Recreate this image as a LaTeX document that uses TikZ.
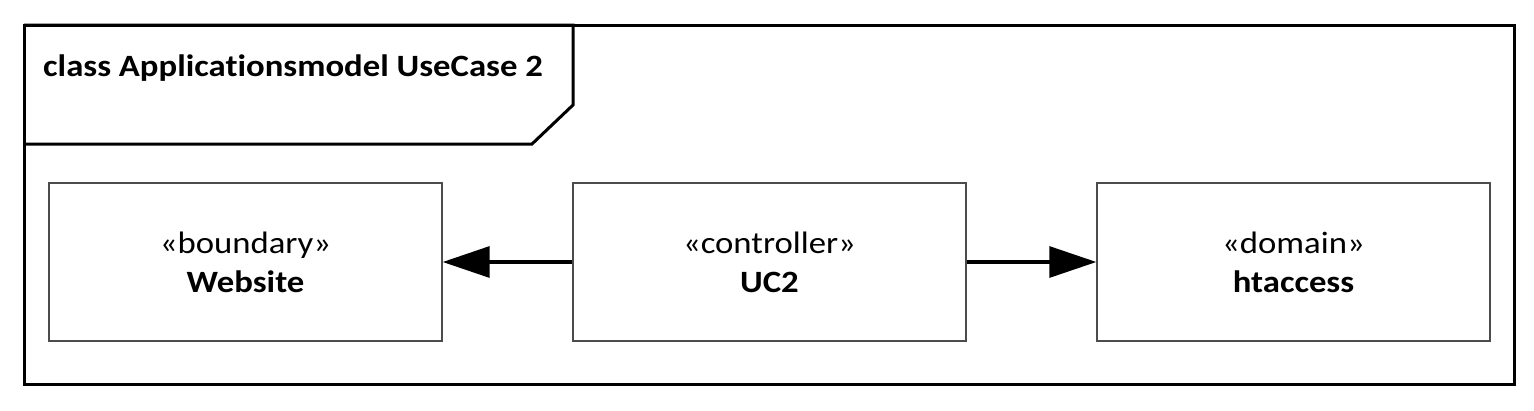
\documentclass[tikz,border=0pt]{standalone}
\usepackage{fontspec}
\setmainfont{Carlito}[FakeStretch=1.12,Ligatures=NoCommon]
\usetikzlibrary{arrows.meta}

\begin{document}
\begin{tikzpicture}[x=1pt,y=-1pt,
    classbox/.style={rectangle,draw=black!70,line width=1.4pt,minimum width=393pt,minimum height=158pt,align=center,font=\fontsize{31}{39}\selectfont},
    assoc/.style={-{Triangle[length=47pt,width=31pt]},line width=3.2pt}]
            \useasboundingbox (0,0) rectangle (1534,410);
            % Draw frame
            \draw[line width=3pt] (24,25) rectangle (1514,384);
            \draw[line width=3pt] (24,25) -- (573,25) -- (573,105) -- (532,144) -- (24,144);
            \node[anchor=base west,inner sep=0pt,font=\bfseries\fontsize{31}{37}\selectfont] (title) at (43,76) {class Applicationsmodel UseCase 2};

            % Draw boxes
            \node[classbox] (bd) at (245.5,262) {«boundary»\\\textbf{Website}};
            \node[classbox] (ctl) at (769.5,262) {«controller»\\\textbf{UC2}};
            \node[classbox] (dm) at (1293.5,262) {«domain»\\\textbf{htaccess}};

            % Connect boxes with arrows
            \draw[assoc] (ctl) -- (bd);
            \draw[assoc] (ctl) -- (dm);
          \end{tikzpicture}
\end{document}
